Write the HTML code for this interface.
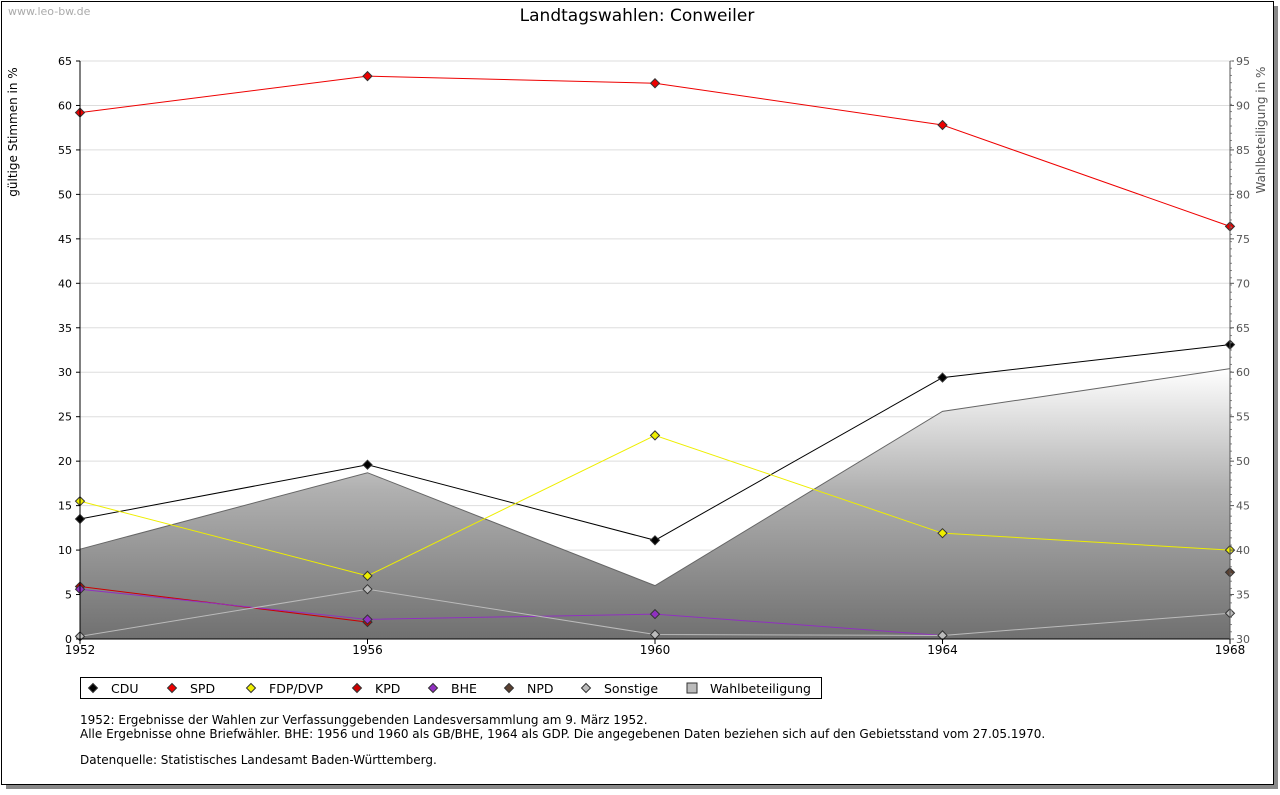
<!DOCTYPE html>
<html><head><meta charset="utf-8"><style>
body{margin:0;background:#fff;font-family:"DejaVu Sans","Liberation Sans",sans-serif;}
#wrap{position:relative;width:1280px;height:791px;}
svg text{font-family:"DejaVu Sans","Liberation Sans",sans-serif;}
</style></head><body>
<div id="wrap">
<svg id="chart" width="1280" height="791" xmlns="http://www.w3.org/2000/svg">
<defs>
<linearGradient id="wg" x1="0" y1="0" x2="0" y2="1">
<stop offset="0" stop-color="#ffffff"/><stop offset="0.45" stop-color="#b0b0b0"/><stop offset="1" stop-color="#707070"/>
</linearGradient>
</defs>
<rect x="6" y="6" width="1272" height="783" fill="#888"/>
<rect x="1.5" y="1.5" width="1272" height="783" fill="#fff" stroke="#000"/>
<text x="8" y="15" font-size="11" fill="#aaa">www.leo-bw.de</text>
<text x="637" y="21" font-size="17" text-anchor="middle">Landtagswahlen: Conweiler</text>
<g id="grid"></g><g id="area"></g><g id="lines"></g><g id="axes"></g>
<text transform="translate(17,132) rotate(-90)" font-size="12" text-anchor="middle">gültige Stimmen in %</text>
<text transform="translate(1265,130) rotate(-90)" font-size="12" fill="#555" text-anchor="middle">Wahlbeteiligung in %</text>
<g id="legend"></g>
<text x="80" y="724" font-size="12">1952: Ergebnisse der Wahlen zur Verfassunggebenden Landesversammlung am 9. März 1952.</text>
<text x="80" y="738" font-size="12">Alle Ergebnisse ohne Briefwähler. BHE: 1956 und 1960 als GB/BHE, 1964 als GDP. Die angegebenen Daten beziehen sich auf den Gebietsstand vom 27.05.1970.</text>
<text x="80" y="764" font-size="12">Datenquelle: Statistisches Landesamt Baden-Württemberg.</text>
</svg></div>
<script>
const years=[1952,1956,1960,1964,1968];
const yTicks=[0,5,10,15,20,25,30,35,40,45,50,55,60,65];
const y2Ticks=[30,35,40,45,50,55,60,65,70,75,80,85,90,95];
const cdu=[13.5,19.6,11.1,29.4,33.1];
const spd=[59.2,63.3,62.5,57.8,46.4];
const fdp=[15.5,7.1,22.9,11.9,10.0];
const kpd=[5.9,1.9,null,null,null];
const bhe=[5.6,2.2,2.8,0.4,null];
const npd=[null,null,null,null,7.5];
const sonstige=[0.3,5.6,0.5,0.4,2.9];
const turnout=[40.1,48.7,36.0,55.6,60.4];
const NS="http://www.w3.org/2000/svg";
const X0=80,X1=1230,Y0=639,Y1=61;
const xs=i=>X0+(years[i]-years[0])/(years[years.length-1]-years[0])*(X1-X0);
const ys=v=>Y0-v/65*(Y0-Y1);
const ys2=v=>Y0-(v-30)/65*(Y0-Y1);
function mk(tag,attrs,parent){const e=document.createElementNS(NS,tag);for(const k in attrs)e.setAttribute(k,attrs[k]);document.getElementById(parent).appendChild(e);return e;}
function diamond(x,y,r){return 'M'+x+','+(y-r)+' L'+(x+r)+','+y+' L'+x+','+(y+r)+' L'+(x-r)+','+y+' Z';}
yTicks.forEach(t=>{
 const y=ys(t);
 const g=mk('line',{x1:X0,x2:X1,y1:y,y2:y,stroke:'#ddd'},'grid');
 
 
 const l=mk('text',{x:X0-8,y:y+4,'font-size':11,'text-anchor':'end'},'axes');l.textContent=t;
 
 
 mk('line',{x1:X0-4,x2:X0,y1:y,y2:y,stroke:'#000'},'axes');
});
y2Ticks.forEach(t=>{
 const y=ys2(t);
 const l=mk('text',{x:X1+6,y:y+4,'font-size':11,fill:'#555'},'axes');l.textContent=t;
 
 
 mk('line',{x1:X1,x2:X1+4,y1:y,y2:y,stroke:'#555'},'axes');
});
for(let k=0;k<=80;k++){const y=Y0-k*(Y0-Y1)/80;mk('line',{x1:X1,x2:X1+2,y1:y,y2:y,stroke:'#888'},'axes');}
years.forEach((yr,i)=>{
 const l=mk('text',{x:xs(i),y:Y0+15,'font-size':12,'text-anchor':'middle'},'axes');l.textContent=yr;
 
 
 mk('line',{x1:xs(i),x2:xs(i),y1:Y0,y2:Y0+5,stroke:'#000'},'axes');
});
let ax=mk('line',{x1:X0,x2:X1,y1:Y0,y2:Y0,stroke:'#000'},'axes');


ax=mk('line',{x1:X0,x2:X0,y1:Y1,y2:Y0,stroke:'#000'},'axes');


ax=mk('line',{x1:X1,x2:X1,y1:Y1,y2:Y0,stroke:'#555'},'axes');


let d='M'+X0+','+Y0;turnout.forEach((v,i)=>d+=' L'+xs(i)+','+ys2(v));d+=' L'+X1+','+Y0+' Z';
const ar=mk('path',{d:d,fill:'url(#wg)',stroke:'none'},'area');


let d2='';turnout.forEach((v,i)=>d2+=(i?' L':'M')+xs(i)+','+ys2(v));
mk('path',{d:d2,fill:'none',stroke:'#666'},'area');
const series=[['cdu',cdu,'#000'],['spd',spd,'#e00'],['fdp-dvp',fdp,'#ee0'],['kpd',kpd,'#c00'],['bhe',bhe,'#9030c0'],['npd',npd,'#5a4030'],['sonstige',sonstige,'#bbb']];
series.forEach(([name,vals,col])=>{
 let p='';let started=false;
 vals.forEach((v,i)=>{if(v==null){started=false;return;}p+=(started?' L':' M')+xs(i)+','+ys(v);started=true;});
 const pl=mk('path',{d:p,fill:'none',stroke:col},'lines');
 
 
 vals.forEach((v,i)=>{if(v==null)return;
  const c=mk('path',{d:diamond(xs(i),ys(v),4.5),fill:col,stroke:'#333','stroke-width':1},'lines');
  
  
 });
});
const lg=mk('rect',{x:80.5,y:677.5,width:741,height:21,fill:'#fff',stroke:'#000'},'legend');


const legItems=[['CDU','#000',93],['SPD','#e00',172],['FDP/DVP','#ee0',251],['KPD','#c00',357],['BHE','#9030c0',433],['NPD','#5a4030',509],['Sonstige','#bbb',586],['Wahlbeteiligung','#bbb',692]];
legItems.forEach(([n,c,x],k)=>{
 if(k<7){mk('path',{d:diamond(x,688,4.5),fill:c,stroke:'#333'},'legend');}
 else{mk('rect',{x:x-5,y:683,width:10,height:10,fill:'#bbb',stroke:'#333'},'legend');}
 const t=mk('text',{x:x+18,y:693,'font-size':12.5},'legend');t.textContent=n;
 
 
});
</script>
</body></html>
